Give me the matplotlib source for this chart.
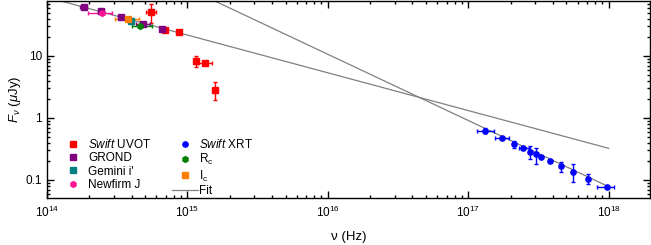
import numpy as np
import matplotlib
matplotlib.use("Agg")
import matplotlib.pyplot as plt
from matplotlib.lines import Line2D
from matplotlib.ticker import LogLocator, FixedLocator, NullFormatter

plt.rcParams['font.family'] = ['Liberation Sans', 'DejaVu Sans']
plt.rcParams['mathtext.fontset'] = 'custom'
plt.rcParams['mathtext.rm'] = 'Liberation Sans'
plt.rcParams['mathtext.it'] = 'Liberation Sans:italic'

# Swift UVOT (red squares)
uvot_nu = [5.53e14, 6.89e14, 8.77e14, 1.16e15, 1.34e15, 1.58e15]
uvot_f = [50.7, 26.2, 24.4, 8.3, 7.6, 2.83]
uvot_nu_lo = [5.07e14, 6.89e14, 8.77e14, 1.16e15, 1.18e15, 1.58e15]
uvot_nu_hi = [6.01e14, 6.89e14, 8.77e14, 1.16e15, 1.50e15, 1.58e15]
uvot_f_lo = [34.0, 26.2, 24.4, 6.7, 7.6, 1.95]
uvot_f_hi = [69.0, 26.2, 24.4, 10.0, 7.6, 3.8]

# GROND (purple squares)
grond_nu = [1.82e14, 2.43e14, 3.36e14, 4.83e14, 6.63e14]
grond_f = [61.0, 53.2, 43.0, 32.8, 27.2]
grond_nu_lo = [1.72e14, 2.30e14, 3.18e14, 4.30e14, 6.40e14]
grond_nu_hi = [1.93e14, 2.56e14, 3.55e14, 5.40e14, 6.90e14]

# Gemini i'
gemini_nu = [3.96e14]
gemini_f = [37.1]

# Newfirm J
newfirm_nu = [2.46e14]
newfirm_f = [48.9]
newfirm_nu_lo = [1.96e14]
newfirm_nu_hi = [2.91e14]

# Rc and Ic
rc_nu = [4.62e14]
rc_f = [30.8]
rc_nu_lo = [4.05e14]
rc_nu_hi = [5.62e14]
ic_nu = [3.77e14]
ic_f = [39.5]
ic_nu_lo = [3.03e14]
ic_nu_hi = [4.49e14]

# Swift XRT (blue circles)
xrt_nu = [1.32e17, 1.73e17, 2.11e17, 2.46e17, 2.77e17, 3.05e17,
          3.32e17, 3.79e17, 4.56e17, 5.53e17, 7.16e17, 9.68e17]
xrt_f = [0.624, 0.475, 0.381, 0.328, 0.283, 0.260,
         0.232, 0.205, 0.168, 0.136, 0.105, 0.076]
xrt_nu_lo = [1.15e17, 1.54e17, 2.11e17, 2.29e17, 2.77e17, 3.05e17,
             3.32e17, 3.79e17, 4.56e17, 5.53e17, 7.16e17, 8.24e17]
xrt_nu_hi = [1.53e17, 1.94e17, 2.11e17, 2.70e17, 2.77e17, 3.05e17,
             3.32e17, 3.79e17, 4.56e17, 5.53e17, 7.16e17, 1.10e18]
xrt_f_lo = [0.566, 0.475, 0.328, 0.328, 0.216, 0.183,
            0.232, 0.205, 0.136, 0.094, 0.086, 0.076]
xrt_f_hi = [0.69, 0.475, 0.43, 0.328, 0.357, 0.324,
            0.232, 0.205, 0.197, 0.181, 0.125, 0.076]

# fit lines (power laws, end points)
fit_nu = [1e14, 1e18]
fit_opt = [88.3, 0.324]
fit_x = [1450.0, 0.078]


def errs(v, lo, hi):
    v = np.array(v)
    return [v - np.array(lo), np.array(hi) - v]


fig = plt.figure(figsize=(6.51, 2.45), dpi=100)
ax = fig.add_axes([0.0722, 0.192, 0.926, 0.804])

ax.plot(fit_nu, fit_opt, color='#808080', lw=0.9, zorder=1)
ax.plot(fit_nu, fit_x, color='#808080', lw=0.9, zorder=1)

ekw = dict(elinewidth=1.0, capsize=1.5, capthick=1.0, ls='none', zorder=3)

ax.errorbar(uvot_nu, uvot_f, xerr=errs(uvot_nu, uvot_nu_lo, uvot_nu_hi),
            yerr=errs(uvot_f, uvot_f_lo, uvot_f_hi), color='#ff0000',
            marker='s', ms=3.8, **ekw)
ax.errorbar(grond_nu, grond_f, xerr=errs(grond_nu, grond_nu_lo, grond_nu_hi),
            color='#800080', marker='s', ms=4.2, **ekw)
ax.errorbar(gemini_nu, gemini_f, color='#008080', marker='s', ms=3.8, **ekw)
ax.errorbar(newfirm_nu, newfirm_f, xerr=errs(newfirm_nu, newfirm_nu_lo, newfirm_nu_hi),
            color='#ff1493', marker='h', ms=4.2, **ekw)
ax.errorbar(xrt_nu, xrt_f, xerr=errs(xrt_nu, xrt_nu_lo, xrt_nu_hi),
            yerr=errs(xrt_f, xrt_f_lo, xrt_f_hi), color='#0000ff',
            marker='o', ms=3.8, **ekw)
ax.errorbar(rc_nu, rc_f, xerr=errs(rc_nu, rc_nu_lo, rc_nu_hi), color='#008000',
            marker='h', ms=4.2, **ekw)
ax.errorbar(ic_nu, ic_f, xerr=errs(ic_nu, ic_nu_lo, ic_nu_hi), color='#ff8000',
            marker='s', ms=3.8, **ekw)

ax.set_xscale('log')
ax.set_yscale('log')
ax.set_xlim(1e14, 10**18.293)
ax.set_ylim(0.0513, 77)

ax.xaxis.set_major_locator(FixedLocator([1e14, 1e15, 1e16, 1e17, 1e18]))
ax.xaxis.set_minor_locator(LogLocator(base=10, subs=np.arange(2, 10)))
ax.xaxis.set_minor_formatter(NullFormatter())
ax.set_xticklabels([r'10$^{14}$', r'10$^{15}$', r'10$^{16}$', r'10$^{17}$', r'10$^{18}$'])
ax.yaxis.set_major_locator(FixedLocator([0.1, 1, 10]))
ax.yaxis.set_minor_locator(LogLocator(base=10, subs=np.arange(2, 10)))
ax.yaxis.set_minor_formatter(NullFormatter())
ax.set_yticklabels(['0.1', '1', '10'])

ax.tick_params(which='both', direction='in', top=True, right=True, labelsize=8.5, width=1.0)
ax.tick_params(which='major', length=5)
ax.tick_params(which='minor', length=2.5)
ax.tick_params(axis='x', pad=5)
for s in ax.spines.values():
    s.set_linewidth(1.0)

ax.set_xlabel('ν (Hz)', fontsize=9.5, labelpad=8)
ax.set_ylabel(r'$F_\nu$ ($\mu$Jy)', fontsize=9.5, labelpad=2)

# legend: markers only
leg_items = [
    (dict(marker='s', color='#ff0000', ms=3.8), r'$\it{Swift}$ UVOT'),
    (dict(marker='s', color='#800080', ms=4.2), 'GROND'),
    (dict(marker='s', color='#008080', ms=3.8), "Gemini i'"),
    (dict(marker='h', color='#ff1493', ms=4.2), 'Newfirm J'),
    (dict(marker='o', color='#0000ff', ms=3.8), r'$\it{Swift}$ XRT'),
    (dict(marker='h', color='#008000', ms=4.2), r'R$_\mathrm{c}$'),
    (dict(marker='s', color='#ff8000', ms=3.8), r'I$_\mathrm{c}$'),
]
handles = [Line2D([], [], ls='none', **kw) for kw, _ in leg_items]
labels = [lab for _, lab in leg_items]
handles.append(Line2D([], [], color='#808080', lw=0.9))
labels.append('Fit')
ax.legend(handles, labels, loc='upper left',
          bbox_to_anchor=(0.014, 0.33), ncol=2, frameon=False, fontsize=8.5,
          handlelength=2.2, handletextpad=0.15, columnspacing=1.75,
          labelspacing=0.12, numpoints=1, borderaxespad=0.0)

fig.savefig('out.png', dpi=100)
